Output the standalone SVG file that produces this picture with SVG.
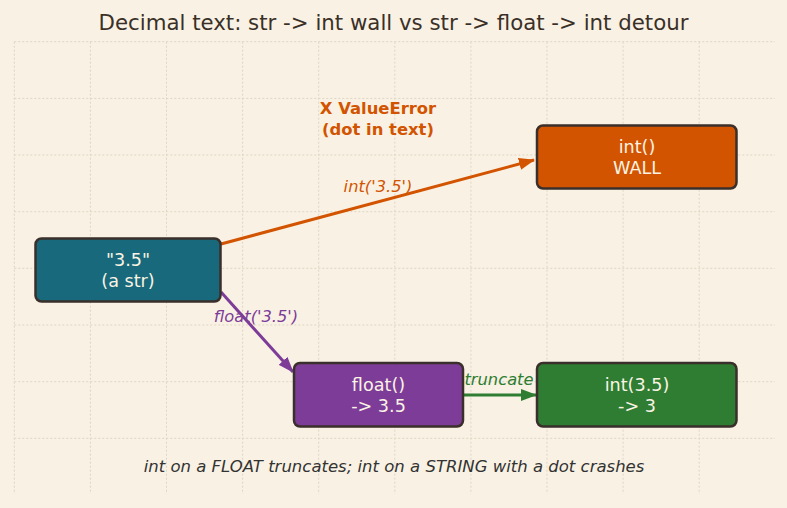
<svg xmlns="http://www.w3.org/2000/svg" width="787" height="508" viewBox="0 0 787 508">
<style>
text{font-family:"DejaVu Sans",sans-serif}
.grid line{stroke:#ddd5c4;stroke-width:1;stroke-dasharray:2 2}
.node rect{stroke:#3a2f2a;stroke-width:2.5}
.nt{fill:#fbf3e4;font-size:17.6px;text-anchor:middle}
.lbl{font-size:16.3px;font-style:italic;text-anchor:middle}
.conn line{stroke-width:3;fill:none}
</style>
<defs>
<marker id="ao" viewBox="0 0 16 12" refX="15" refY="6" markerWidth="16" markerHeight="12" orient="auto" markerUnits="userSpaceOnUse"><path d="M0,0 L16,6 L0,12 z" fill="#d35400"/></marker>
<marker id="ap" viewBox="0 0 16 12" refX="15" refY="6" markerWidth="16" markerHeight="12" orient="auto" markerUnits="userSpaceOnUse"><path d="M0,0 L16,6 L0,12 z" fill="#7d3c98"/></marker>
<marker id="ag" viewBox="0 0 16 12" refX="15" refY="6" markerWidth="16" markerHeight="12" orient="auto" markerUnits="userSpaceOnUse"><path d="M0,0 L16,6 L0,12 z" fill="#2e7d32"/></marker>
</defs>
<rect width="787" height="508" fill="#f9f2e4"/>
<g class="grid">
<line x1="14.3" y1="41.7" x2="14.3" y2="494"/>
<line x1="90.4" y1="41.7" x2="90.4" y2="494"/>
<line x1="166.5" y1="41.7" x2="166.5" y2="494"/>
<line x1="242.6" y1="41.7" x2="242.6" y2="494"/>
<line x1="318.7" y1="41.7" x2="318.7" y2="494"/>
<line x1="394.8" y1="41.7" x2="394.8" y2="494"/>
<line x1="470.9" y1="41.7" x2="470.9" y2="494"/>
<line x1="547" y1="41.7" x2="547" y2="494"/>
<line x1="623.1" y1="41.7" x2="623.1" y2="494"/>
<line x1="699.2" y1="41.7" x2="699.2" y2="494"/>
<line x1="14.3" y1="41.7" x2="775" y2="41.7"/>
<line x1="14.3" y1="98.4" x2="775" y2="98.4"/>
<line x1="14.3" y1="155" x2="775" y2="155"/>
<line x1="14.3" y1="211.7" x2="775" y2="211.7"/>
<line x1="14.3" y1="268.3" x2="775" y2="268.3"/>
<line x1="14.3" y1="325" x2="775" y2="325"/>
<line x1="14.3" y1="381.7" x2="775" y2="381.7"/>
<line x1="14.3" y1="438.3" x2="775" y2="438.3"/>
</g>
<text x="393.5" y="30" font-size="21.3" fill="#3a3028" text-anchor="middle">Decimal text: str -&gt; int wall vs str -&gt; float -&gt; int detour</text>
<g class="conn">
<line x1="221" y1="244" x2="534" y2="160" stroke="#d35400" marker-end="url(#ao)"/>
<line x1="221" y1="292" x2="293" y2="372" stroke="#7d3c98" marker-end="url(#ap)"/>
<line x1="464" y1="395" x2="536" y2="395" stroke="#2e7d32" marker-end="url(#ag)"/>
</g>
<g id="n_str" class="node">
<rect x="35.5" y="238.5" width="185" height="63" rx="6" fill="#17697b"/>
<text class="nt" x="128" y="265.5">"3.5"</text>
<text class="nt" x="128" y="286.5">(a str)</text>
</g>
<g id="n_wall" class="node">
<rect x="537" y="125.5" width="199.5" height="63" rx="6" fill="#d35400"/>
<text class="nt" x="637" y="152.5">int()</text>
<text class="nt" x="637" y="173.5">WALL</text>
</g>
<g id="n_float" class="node">
<rect x="294" y="363" width="169" height="63.5" rx="6" fill="#7d3c98"/>
<text class="nt" x="378.5" y="390.5">float()</text>
<text class="nt" x="378.5" y="411.5">-&gt; 3.5</text>
</g>
<g id="n_int" class="node">
<rect x="537" y="363" width="199.5" height="63.5" rx="6" fill="#2e7d32"/>
<text class="nt" x="637" y="390.5">int(3.5)</text>
<text class="nt" x="637" y="411.5">-&gt; 3</text>
</g>
<text x="378" y="114" font-size="16.4" font-weight="bold" fill="#d35400" text-anchor="middle">X ValueError</text>
<text x="378" y="135" font-size="16.4" font-weight="bold" fill="#d35400" text-anchor="middle">(dot in text)</text>
<text class="lbl" x="378" y="192" fill="#d35400">int('3.5')</text>
<text class="lbl" x="256" y="322" fill="#7d3c98">float('3.5')</text>
<text class="lbl" x="499" y="385" fill="#2e7d32">truncate</text>
<text x="394" y="472" font-size="16.5" font-style="italic" fill="#333" text-anchor="middle">int on a FLOAT truncates; int on a STRING with a dot crashes</text>
</svg>
